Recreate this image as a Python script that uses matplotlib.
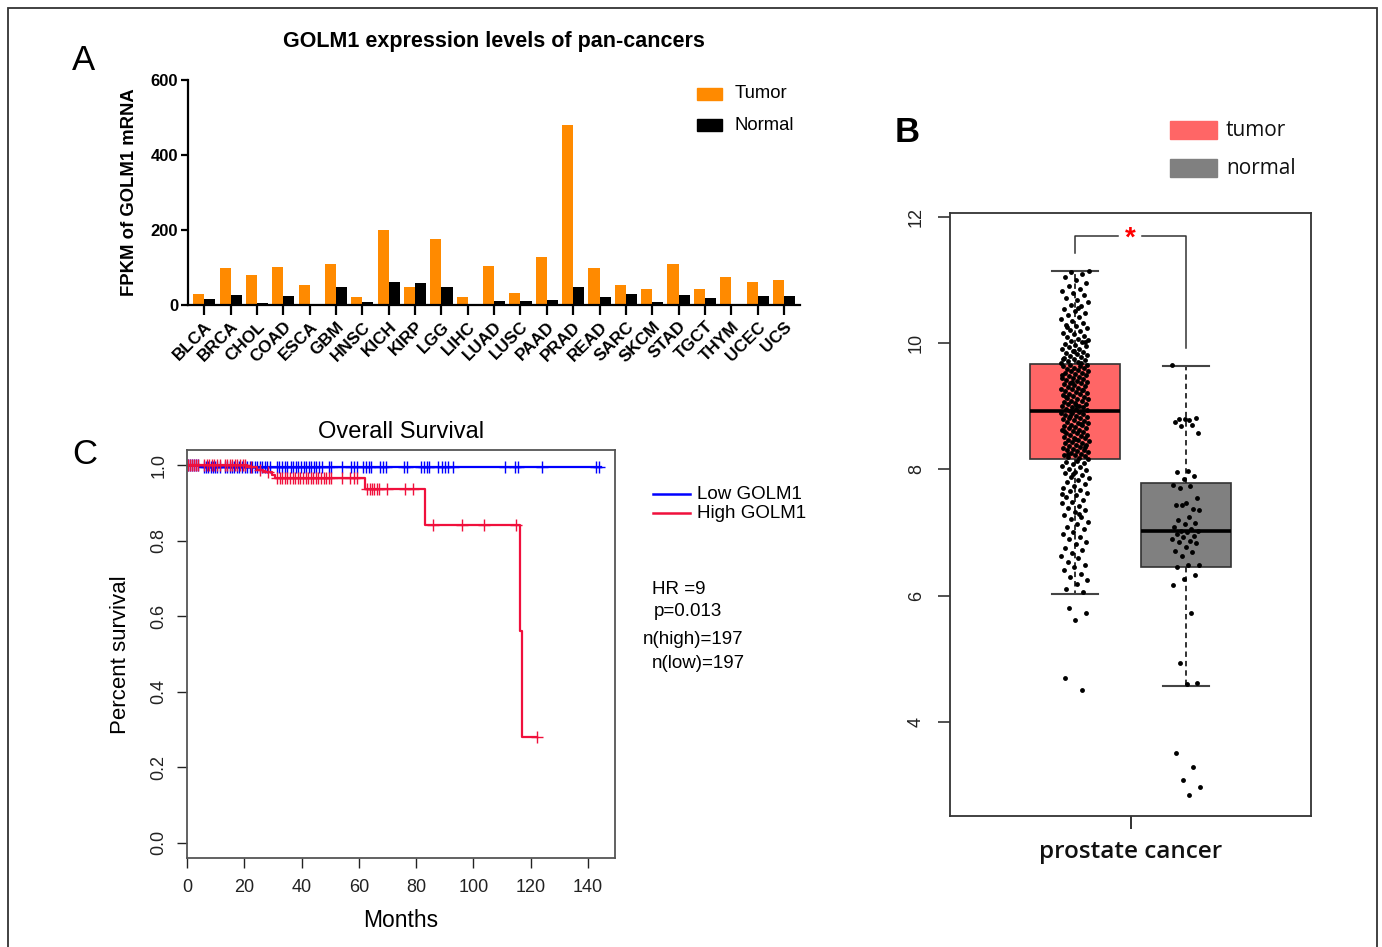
import numpy as np
import matplotlib
matplotlib.use('Agg')
import matplotlib.pyplot as plt
from matplotlib.patches import Rectangle
from matplotlib.lines import Line2D

W, H = 1382, 947
plt.rcParams['font.family'] = ['Liberation Sans', 'DejaVu Sans']

# ---------------- Panel A data ----------------
cancers = ['BLCA', 'BRCA', 'CHOL', 'COAD', 'ESCA', 'GBM', 'HNSC', 'KICH', 'KIRP', 'LGG',
           'LIHC', 'LUAD', 'LUSC', 'PAAD', 'PRAD', 'READ', 'SARC', 'SKCM', 'STAD', 'TGCT',
           'THYM', 'UCEC', 'UCS']
tumor_fpkm = [29, 99, 81, 101, 53, 110, 21, 201, 49, 177, 21, 104, 31, 129, 480, 99, 52,
              43, 108, 42, 75, 62, 67]
normal_fpkm = [15, 27, 5, 23, 3, 47, 8, 60, 58, 47, 3, 11, 11, 12, 47, 21, 29, 9, 27, 18,
               0, 24, 23]

# ---------------- Panel B data ----------------
groups_b = ['tumor', 'normal']
tumor_expr = [
    9.68, 9.70, 9.71, 9.73, 9.74, 9.76, 9.78, 9.79, 9.81, 9.83, 9.84, 9.86, 9.88, 9.90, 9.91,
    9.93, 9.95, 9.97, 9.99, 10.01, 10.03, 10.05, 10.07, 10.09, 10.11, 10.14, 10.16, 10.19,
    10.21, 10.24, 10.27, 10.29, 10.32, 10.35, 10.38, 10.41, 10.44, 10.47, 10.51, 10.54, 10.58,
    10.61, 10.65, 10.69, 10.72, 10.76, 10.79, 10.82, 10.86, 10.90, 10.95, 11.00, 11.05, 11.10,
    11.13, 11.14, 10.56, 10.25, 10.02, 9.87, 9.75, 9.69,
    8.93, 8.94, 8.95, 8.96, 8.98, 8.99, 9.00, 9.01, 9.03, 9.04, 9.05, 9.07, 9.08, 9.09, 9.11,
    9.12, 9.13, 9.15, 9.16, 9.17, 9.19, 9.20, 9.21, 9.23, 9.24, 9.25, 9.27, 9.28, 9.29, 9.31,
    9.32, 9.33, 9.35, 9.36, 9.37, 9.39, 9.40, 9.41, 9.43, 9.44, 9.45, 9.47, 9.48, 9.49, 9.51,
    9.52, 9.53, 9.55, 9.56, 9.57, 9.59, 9.60, 9.61, 9.63, 9.64, 9.65, 9.66, 9.02, 9.14, 9.26,
    9.38, 9.50,
    8.18, 8.19, 8.21, 8.22, 8.23, 8.25, 8.26, 8.27, 8.29, 8.30, 8.31, 8.33, 8.34, 8.35, 8.37,
    8.38, 8.39, 8.41, 8.42, 8.43, 8.45, 8.46, 8.47, 8.49, 8.50, 8.51, 8.53, 8.54, 8.55, 8.57,
    8.58, 8.59, 8.61, 8.62, 8.63, 8.65, 8.66, 8.67, 8.69, 8.70, 8.71, 8.73, 8.74, 8.75, 8.77,
    8.78, 8.79, 8.81, 8.82, 8.83, 8.85, 8.86, 8.87, 8.89, 8.90, 8.91, 8.24, 8.36, 8.48, 8.60,
    8.72, 8.84,
    8.16, 8.14, 8.12, 8.10, 8.08, 8.06, 8.04, 8.01, 7.99, 7.96, 7.94, 7.91, 7.88, 7.86, 7.83,
    7.80, 7.77, 7.74, 7.71, 7.68, 7.65, 7.62, 7.59, 7.56, 7.52, 7.49, 7.46, 7.42, 7.39, 7.35,
    7.32, 7.28, 7.24, 7.21, 7.17, 7.13, 7.09, 7.05, 7.01, 6.97, 6.93, 6.89, 6.85, 6.81, 6.76,
    6.72, 6.68, 6.63, 6.59, 6.54, 6.49, 6.45, 6.40, 6.35, 6.29, 6.24, 6.18, 6.11, 6.05, 7.92,
    7.61, 7.30,
    5.81, 5.72, 5.62, 4.69, 4.51]
normal_expr = [
    9.65, 8.78, 8.80, 8.82, 8.79, 8.75, 8.71, 8.68, 8.58, 7.98, 7.96, 7.90, 7.85, 7.75, 7.73,
    7.71, 7.55, 7.46, 7.44, 7.38, 7.43, 7.35, 7.25, 7.19, 7.15, 7.13, 7.08, 7.06, 7.03, 7.02,
    7.00, 6.98, 6.95, 6.93, 6.90, 6.87, 6.85, 6.83, 6.77, 6.70, 6.69, 6.62, 6.49, 6.48, 6.46,
    6.32, 6.26, 6.17, 5.73, 4.93, 4.62, 4.60, 3.50, 3.29, 3.08, 2.97, 2.84]
box_median = [8.92, 7.02]
box_q1 = [8.17, 6.46]
box_q3 = [9.67, 7.78]
box_whislo = [6.03, 4.57]
box_whishi = [11.14, 9.63]

# ---------------- Panel C data ----------------
low_event_months = [4.5]
low_surv = [0.995]
low_end = 144.5
low_censor = [0.5, 1.2, 1.8, 2.5, 3.2, 3.9, 6.0, 6.8, 7.5, 8.3, 9.0, 9.8, 10.6, 11.4, 13.2,
              14.0, 14.9, 15.7, 16.5, 17.4, 18.3, 19.2, 20.1, 21.0, 21.9, 22.8, 23.6, 24.5,
              25.4, 26.3, 27.1, 28.0, 28.9, 31.4, 32.3, 33.2, 34.1, 35.0, 36.2, 37.1, 38.0,
              38.9, 39.8, 40.7, 41.6, 42.5, 43.4, 44.3, 45.2, 46.1, 47.0, 49.5, 50.4, 54.0,
              57.4, 58.3, 59.3, 61.6, 62.5, 63.4, 64.3, 67.4, 68.4, 69.5, 75.8, 76.8, 81.9,
              82.8, 83.7, 84.6, 87.8, 89.0, 90.1, 91.3, 92.8, 111.0, 114.5, 115.7, 123.9,
              143.0, 144.0]
high_event_months = [20.8, 24.3, 26.7, 29.8, 30.7, 62.2, 83.3, 116.2, 117.0]
high_surv = [0.994, 0.988, 0.981, 0.974, 0.967, 0.936, 0.842, 0.561, 0.281]
high_end = 122.1
high_censor = [0.5, 1.2, 1.9, 2.6, 3.3, 4.0, 6.0, 6.9, 7.8, 8.7, 9.6, 10.5, 11.4, 13.1, 14.0,
               14.9, 15.8, 16.7, 17.6, 18.5, 19.4, 20.2, 22.5, 25.5, 28.3, 31.5, 32.4, 33.3,
               34.2, 35.1, 36.0, 36.9, 37.8, 38.7, 39.6, 40.5, 41.4, 42.3, 43.2, 44.1, 45.0,
               45.9, 46.8, 47.7, 48.6, 49.5, 50.4, 54.0, 57.0, 58.2, 59.4, 63.0, 63.8, 64.6,
               65.4, 66.2, 67.0, 69.7, 76.1, 79.0, 86.0, 95.9, 103.7, 114.9, 122.1]
stats_text = ['HR =9', 'p=0.013', 'n(high)=197', 'n(low)=197']


def rect(x0, y0, x1, y1):
    return [x0 / W, 1 - y1 / H, (x1 - x0) / W, (y1 - y0) / H]


def fx(x):
    return x / W


def fy(y):
    return 1 - y / H


fig = plt.figure(figsize=(W / 100, H / 100), dpi=100)
fig.patch.set_facecolor('white')

# outer frame
fig.add_artist(Rectangle((fx(8), fy(960)), fx(1377) - fx(8), fy(8) - fy(960),
                         transform=fig.transFigure, fill=False, ec='#333333', lw=1.3,
                         clip_on=False))

# ======================= Panel A =======================
axA = fig.add_axes(rect(188, 80, 800, 305))
xa = np.arange(len(cancers))
bw = 0.42
orange = '#FF8A00'
axA.bar(xa - bw / 2, tumor_fpkm, bw, color=orange, label='Tumor')
axA.bar(xa + bw / 2, normal_fpkm, bw, color='black', label='Normal')
axA.set_xlim(-0.62, len(cancers) - 1 + 0.61)
axA.set_ylim(0, 600)
axA.set_yticks([0, 200, 400, 600])
axA.set_yticklabels(['0', '200', '400', '600'], fontsize=12, fontweight='bold')
axA.set_xticks(xa)
axA.set_xticklabels(cancers, rotation=45, ha='right', rotation_mode='anchor',
                    fontsize=12.3, fontweight='bold')
for s in ['top', 'right']:
    axA.spines[s].set_visible(False)
for s in ['left', 'bottom']:
    axA.spines[s].set_linewidth(1.6)
axA.tick_params(axis='y', length=5, width=1.6, pad=2)
axA.tick_params(axis='x', length=7, width=1.6, pad=3)
fig.text(fx(494), fy(42), 'GOLM1 expression levels of pan-cancers', fontsize=15.5,
         fontweight='bold', ha='center', va='center')
fig.text(fx(130), fy(192), 'FPKM of GOLM1 mRNA', fontsize=13.3, fontweight='bold',
         rotation=90, ha='center', va='center')
# legend A
for yy, col, lab in [(94, orange, 'Tumor'), (125, 'black', 'Normal')]:
    fig.add_artist(Rectangle((fx(697), fy(yy + 6)), fx(722) - fx(697), fy(yy - 6) - fy(yy + 6),
                             transform=fig.transFigure, color=col))
    fig.text(fx(735), fy(yy), lab, fontsize=13.3, ha='left', va='center')
fig.text(fx(83), fy(60), 'A', fontsize=25, ha='center', va='center')

# ======================= Panel B =======================
axB = fig.add_axes(rect(950, 213, 1311, 816))
stats = []
for i in range(2):
    stats.append(dict(med=box_median[i], q1=box_q1[i], q3=box_q3[i],
                      whislo=box_whislo[i], whishi=box_whishi[i], fliers=[]))
box_cols = ['#FF6666', '#808080']
bp = axB.bxp(stats, positions=[1, 2], widths=0.81, patch_artist=True, showfliers=False,
             boxprops=dict(edgecolor='#333333', linewidth=1.2),
             medianprops=dict(color='black', linewidth=2.6),
             whiskerprops=dict(color='#222222', linewidth=1.3, linestyle=(0, (3, 2.2))),
             capprops=dict(color='#444444', linewidth=1.5), capwidths=0.42)
for patch, c in zip(bp['boxes'], box_cols):
    patch.set_facecolor(c)
for i, vals in enumerate([tumor_expr, normal_expr]):
    vals = np.asarray(vals)
    n = len(vals)
    offs = ((np.arange(n) * 0.6180339887) % 1.0 - 0.5) * 0.25
    axB.plot(i + 1 + offs, vals, 'o', ms=3.5, color='black', zorder=4, mew=0)
axB.set_xlim(-0.126, 3.126)
axB.set_ylim(2.51, 12.06)
axB.set_yticks([4, 6, 8, 10, 12])
axB.set_yticklabels(['4', '6', '8', '10', '12'], rotation=90, va='center', fontsize=13)
axB.set_xticks([1.5])
axB.set_xticklabels(['prostate cancer'], fontsize=17.5, fontweight='semibold',
                    family=['Open Sans', 'DejaVu Sans'])
axB.tick_params(axis='y', length=9, width=1.1, pad=9, colors='#222222')
axB.tick_params(axis='x', length=9, width=1.3, pad=8, colors='#222222',
                labelcolor='#111111')
for s in axB.spines.values():
    s.set_linewidth(1.3)
    s.set_color('#333333')
# significance bracket
axB.plot([1, 1, 1.39], [11.43, 11.70, 11.70], color='#333333', lw=1.1)
axB.plot([1.6, 2, 2], [11.70, 11.70, 9.92], color='#333333', lw=1.1)
axB.text(1.5, 11.66, '*', color='red', fontsize=20, fontweight='bold', ha='center',
         va='center')
# legend B
for yy, col, lab in [(130, box_cols[0], groups_b[0]), (168, box_cols[1], groups_b[1])]:
    fig.add_artist(Rectangle((fx(1170), fy(yy + 9)), fx(1217) - fx(1170), fy(yy - 9) - fy(yy + 9),
                             transform=fig.transFigure, color=col))
    fig.text(fx(1226), fy(yy), lab, fontsize=15, ha='left', va='center',
             family=['Open Sans', 'DejaVu Sans'], color='#111111')
fig.text(fx(907), fy(133), 'B', fontsize=25, fontweight='bold', ha='center', va='center')

# ======================= Panel C =======================
axC = fig.add_axes(rect(187, 450, 615, 858))
blue = '#0000FF'
red = '#F0103C'


def km_draw(ax, ev, sv, end, cens, col):
    t = np.concatenate([[0.0], np.asarray(ev, float), [end]])
    s = np.concatenate([[1.0], np.asarray(sv, float), [sv[-1]]])
    ax.step(t, s, where='post', color=col, lw=1.6)
    cens = np.asarray(cens, float)
    idx = np.searchsorted(t[:-1], cens, side='right') - 1
    ax.plot(cens, s[idx], '+', color=col, ms=8, mew=1.0, ls='none')


km_draw(axC, low_event_months, low_surv, low_end, low_censor, blue)
km_draw(axC, high_event_months, high_surv, high_end, high_censor, red)
axC.set_xlim(0, 149.5)
axC.set_ylim(-0.04, 1.04)
axC.set_xticks(range(0, 141, 20))
axC.set_xticklabels([str(v) for v in range(0, 141, 20)], fontsize=13)
yt = [0.0, 0.2, 0.4, 0.6, 0.8, 1.0]
axC.set_yticks(yt)
axC.set_yticklabels(['%.1f' % v for v in yt], rotation=90, va='center', fontsize=13)
axC.tick_params(axis='both', length=7, width=1.0, colors='#222222')
axC.tick_params(axis='y', pad=7)
axC.tick_params(axis='x', pad=8)
for s in axC.spines.values():
    s.set_linewidth(1.3)
    s.set_color('#555555')
fig.text(fx(401), fy(432), 'Overall Survival', fontsize=17, ha='center', va='center')
fig.text(fx(401), fy(920), 'Months', fontsize=16.5, ha='center', va='center')
fig.text(fx(120), fy(655), 'Percent survival', fontsize=16, rotation=90, ha='center',
         va='center')
# legend C
for yy, col, lab in [(494, blue, 'Low GOLM1'), (513, red, 'High GOLM1')]:
    fig.add_artist(Line2D([fx(653), fx(690)], [fy(yy), fy(yy)], color=col, lw=1.8,
                          transform=fig.transFigure))
    fig.text(fx(697), fy(yy), lab, fontsize=13.5, ha='left', va='center')
for (xx, yy), txt in zip([(652, 590), (654, 612), (643, 639), (652, 664)], stats_text):
    fig.text(fx(xx), fy(yy), txt, fontsize=13.5, ha='left', va='center')
fig.text(fx(85), fy(455), 'C', fontsize=25, ha='center', va='center')

fig.savefig('out.png', dpi=100, facecolor='white')
